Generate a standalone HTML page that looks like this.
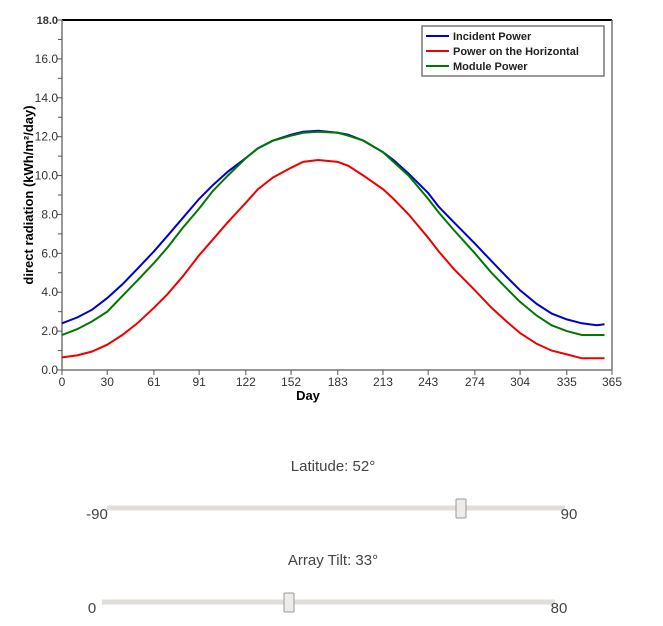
<!DOCTYPE html>
<html><head><meta charset="utf-8"><style>
body{margin:0;background:#fff;width:663px;height:626px;overflow:hidden;font-family:"Liberation Sans",sans-serif}
svg{position:absolute;left:0;top:0}
</style></head><body>
<svg id="chart" width="663" height="626"></svg>
<script>
const days=[0,10,20,30,40,50,61,70,80,91,100,110,122,130,140,152,160,170,183,190,200,213,220,230,243,250,260,274,285,295,304,315,325,335,345,355,360];
const incident=[2.4,2.7,3.1,3.7,4.4,5.2,6.1,6.9,7.8,8.8,9.5,10.2,10.9,11.4,11.8,12.1,12.25,12.3,12.2,12.1,11.8,11.2,10.8,10.1,9.1,8.4,7.6,6.5,5.6,4.8,4.1,3.4,2.9,2.6,2.4,2.3,2.35];
const horizontal=[0.65,0.75,0.95,1.3,1.8,2.4,3.2,3.9,4.8,5.9,6.7,7.6,8.6,9.3,9.9,10.4,10.7,10.8,10.7,10.5,10.0,9.3,8.8,8.0,6.8,6.1,5.2,4.1,3.2,2.5,1.9,1.35,1.0,0.8,0.6,0.6,0.6];
const module=[1.8,2.1,2.5,3.0,3.8,4.6,5.5,6.3,7.3,8.3,9.2,10.0,10.9,11.4,11.8,12.05,12.2,12.25,12.2,12.05,11.8,11.2,10.7,10.0,8.8,8.1,7.2,6.0,5.0,4.2,3.5,2.8,2.3,2.0,1.8,1.8,1.8];
const xTicks=[0,30,61,91,122,152,183,213,243,274,304,335,365];
const yTicks=[0,2,4,6,8,10,12,14,16,18];
const X0=62,X1=612,Y0=370,Y1=20;
const x=d=>X0+(X1-X0)*d/365;
const y=v=>Y0-(Y0-Y1)*v/18;
const svg=document.getElementById('chart');
const NS='http://www.w3.org/2000/svg';
function mk(t,a,txt){const e=document.createElementNS(NS,t);for(const k in a)e.setAttribute(k,a[k]);if(txt!==undefined)e.textContent=txt;svg.appendChild(e);return e;}
let e;
e=mk('line',{x1:X0,y1:Y1,x2:X1,y2:Y1,stroke:'#000','stroke-width':2});


e=mk('line',{x1:X1,y1:Y1,x2:X1,y2:Y0,stroke:'#777','stroke-width':1.5});


e=mk('line',{x1:X0,y1:Y1,x2:X0,y2:Y0,stroke:'#777','stroke-width':1.5});


e=mk('line',{x1:X0,y1:Y0,x2:X1,y2:Y0,stroke:'#777','stroke-width':1.5});


for(let v=1;v<18;v+=2){e=mk('line',{x1:X0-4,y1:y(v),x2:X0,y2:y(v),stroke:'#555'});

}
yTicks.forEach(v=>{e=mk('line',{x1:X0-5,y1:y(v),x2:X0,y2:y(v),stroke:'#555'});


e=mk('text',{x:X0-4,y:y(v)+4,'text-anchor':'end','font-size':v==18?11:12,fill:'#333','font-weight':v==18?'bold':'normal'},v.toFixed(1));

});
xTicks.forEach(d=>{e=mk('line',{x1:x(d),y1:Y0,x2:x(d),y2:Y0+5,stroke:'#555'});


e=mk('text',{x:x(d),y:Y0+16,'text-anchor':'middle','font-size':12,fill:'#333'},d);

});
e=mk('text',{x:308,y:400,'text-anchor':'middle','font-size':13,'font-weight':'bold'},'Day');


e=mk('text',{x:0,y:0,'text-anchor':'middle','font-size':13,'font-weight':'bold',transform:'translate(33,195) rotate(-90)'},'direct radiation (kWh/m²/day)');


function series(vals,col,name){const p=days.map((d,i)=>(i?'L':'M')+x(d).toFixed(1)+','+y(vals[i]).toFixed(1)).join('');
const el=mk('path',{d:p,fill:'none',stroke:col,'stroke-width':2});

}
series(incident,'#0000cc','incident-power-line');
series(horizontal,'#ee0000','horizontal-power-line');
series(module,'#007700','module-power-line');
e=mk('rect',{x:422,y:26,width:182,height:50,fill:'#fff',stroke:'#777','stroke-width':1.5});


[['Incident Power','#0000cc'],['Power on the Horizontal','#ee0000'],['Module Power','#007700']].forEach((l,i)=>{
e=mk('line',{x1:426,y1:36+i*15,x2:449,y2:36+i*15,stroke:l[1],'stroke-width':2});


e=mk('text',{x:453,y:40+i*15,'font-size':11,'font-weight':'bold',fill:'#222'},l[0]);

});
function slider(label,lx,ty,tx0,tx1,hx,lo,hi,nm){
let t=mk('text',{x:333,y:ty-37,'text-anchor':'middle','font-size':15,fill:'#444'},label);


t=mk('rect',{x:tx0,y:ty-2.5,width:tx1-tx0,height:5,fill:'#e1ddd8'});


t=mk('rect',{x:hx-5,y:ty-9,width:10,height:19,fill:'#eeebe8',stroke:'#999',rx:1});


t=mk('text',{x:tx0-10,y:ty+11,'text-anchor':'middle','font-size':15,fill:'#444'},lo);


t=mk('text',{x:tx1+4,y:ty+11,'text-anchor':'middle','font-size':15,fill:'#444'},hi);

}
slider('Latitude: 52°',0,508,107,565,461,'-90','90','latitude-slider');
slider('Array Tilt: 33°',0,602,102,555,289,'0','80','tilt-slider');
</script>
</body></html>
